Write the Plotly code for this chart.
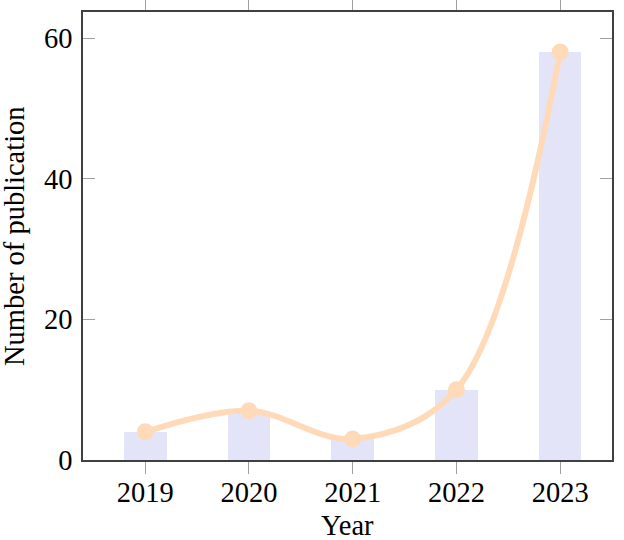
import plotly.graph_objects as go

years = [2019, 2020, 2021, 2022, 2023]
pubs = [4, 7, 3, 10, 58]
yticks = [0, 20, 40, 60]
x_title = "Year"
y_title = "Number of publication"

font = "Liberation Serif"
fs = 28.5
fig = go.Figure()
fig.add_trace(go.Bar(x=years, y=pubs, width=0.41, marker=dict(color="#e4e4f8", line=dict(width=0)),
                     showlegend=False))
fig.add_trace(go.Scatter(x=years, y=pubs, mode="lines+markers",
                         line=dict(color="#ffdab9", width=6, shape="spline", smoothing=1),
                         marker=dict(color="#ffdab9", size=17), showlegend=False))
fig.update_layout(
    width=624, height=540,
    margin=dict(l=83, r=12, t=12, b=80),
    plot_bgcolor="white", paper_bgcolor="white",
    font=dict(family=font, size=fs, color="black"),
    bargap=0,
)
fig.update_xaxes(range=[2018.4, 2023.5], tickvals=years, ticktext=[str(y) for y in years],
                 tickfont=dict(family=font, size=fs, color="black"),
                 ticks="outside", ticklen=12, tickcolor="#a0a0a0", tickwidth=1,
                 ticklabelstandoff=-6,
                 showline=True, linecolor="#404040", linewidth=1.5, mirror="allticks",
                 showgrid=False, zeroline=False, automargin=False)
fig.update_yaxes(range=[0, 63.7], tickvals=yticks,
                 tickfont=dict(family=font, size=fs, color="black"),
                 ticks="inside", ticklen=12, tickcolor="#a0a0a0", tickwidth=1,
                 ticklabelstandoff=3,
                 showline=True, linecolor="#404040", linewidth=1.5, mirror="allticks",
                 showgrid=False, zeroline=False, automargin=False)
fig.add_annotation(text=x_title, xref="paper", yref="paper", x=0.5, y=-65 / 448,
                   xanchor="center", yanchor="middle", showarrow=False, borderpad=0,
                   font=dict(family=font, size=fs, color="black"))
fig.add_annotation(text=y_title, xref="paper", yref="paper", x=(14 - 83) / 529, y=0.5,
                   xanchor="center", yanchor="middle", textangle=-90, showarrow=False, borderpad=0,
                   font=dict(family=font, size=fs, color="black"))
fig.write_html("out.html", post_script="document.body.style.margin='0';",
               config={"displayModeBar": False})
